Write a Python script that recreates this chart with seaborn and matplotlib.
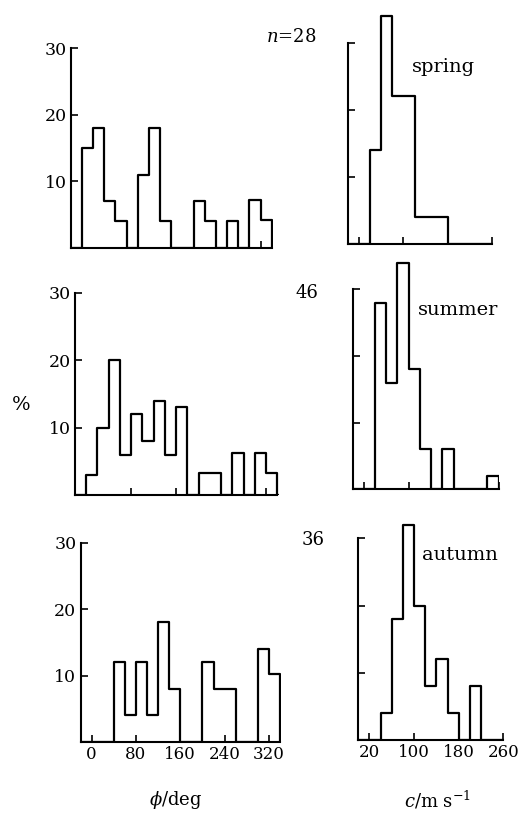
import numpy as np
import pandas as pd
import seaborn as sns
import matplotlib.pyplot as plt

# ---------------- data (percent per 20-unit bin) ----------------
phi_edges = list(range(-20, 341, 20))          # 18 bins, -20 .. 340 deg
c_edges = list(range(0, 261, 20))              # 13 bins, 0 .. 260 m/s

spring_phi = [0, 15, 18, 7, 4, 0, 11, 18, 4, 0, 0, 7, 4, 0, 4, 0, 7.2, 4.2]
summer_phi = [0, 3, 10, 20, 6, 12, 8, 14, 6, 13, 0, 3.2, 3.2, 0, 6.3, 0, 6.3, 3.3]
autumn_phi = [0, 0, 0, 12, 4, 12, 4, 18, 8, 0, 0, 12, 8, 8, 0, 0, 14, 10.3]

spring_c = [0, 0, 14, 34, 22, 22, 4, 4, 4, 0, 0, 0, 0]
summer_c = [0, 0, 28, 16, 34, 18, 6, 0, 6, 0, 0, 0, 2]
autumn_c = [0, 0, 4, 18, 32, 20, 8, 12, 4, 0, 8, 0, 0]

seasons = ["spring", "summer", "autumn"]
n_obs = ["$n$=28", "46", "36"]
y_ticks = [10, 20, 30]
phi_ticks = [0, 80, 160, 240, 320]
c_ticks = [20, 100, 180, 260]

# ---------------- style ----------------
sns.set_theme(style="ticks")
plt.rcParams['font.family'] = ['DejaVu Serif']
plt.rcParams['mathtext.fontset'] = 'dejavuserif'
plt.rcParams['text.color'] = 'black'

W, H = 521, 819
fig = plt.figure(figsize=(W / 100, H / 100), dpi=100)
fig.patch.set_facecolor("white")

EXTRA = 0.006  # fraction of x-range added on the right so the closing edge is not clipped


def add_ax(x_lo_px, x_hi_px, y0_px, y30_px):
    ppu = (y0_px - y30_px) / 30.0
    top = y0_px - 36 * ppu
    width = (x_hi_px - x_lo_px) * (1 + EXTRA)
    return fig.add_axes([x_lo_px / W, 1 - y0_px / H,
                         width / W, (y0_px - top) / H])


# pixel placement of each panel: (x at low lim, x at high lim, y of 0, y of 30)
left_pos = [(70.7, 271.7, 248.0, 48.3),
            (74.8, 277.3, 495.0, 292.7),
            (80.5, 280.0, 742.0, 542.7)]
right_pos = [(348.3, 491.8, 244.3, 42.7),
             (352.5, 498.5, 489.3, 289.3),
             (358.3, 503.3, 740.0, 538.3)]

phi_data = [spring_phi, summer_phi, autumn_phi]
c_data = [spring_c, summer_c, autumn_c]


def draw_hist(ax, edges, vals, xlim, ticks, show_xlabels, show_ylabels):
    w = edges[1] - edges[0]
    centers = [(a + b) / 2 for a, b in zip(edges[:-1], edges[1:])]
    df = pd.DataFrame({"x": centers, "w": [float(v) for v in vals]})
    bins_ext = [edges[0] - w] + list(edges) + [edges[-1] + w]
    sns.histplot(data=df, x="x", weights="w", bins=bins_ext,
                 element="step", fill=False, color="black",
                 linewidth=1.6, ax=ax)
    lo, hi = xlim
    ax.set_xlim(lo, hi + (hi - lo) * EXTRA)
    ax.set_ylim(0, 36)
    ax.set_xlabel("")
    ax.set_ylabel("")
    ax.set_facecolor("none")
    for s in ["top", "right"]:
        ax.spines[s].set_visible(False)
    for s in ["left", "bottom"]:
        ax.spines[s].set_linewidth(1.5)
        ax.spines[s].set_color("black")
    ax.spines["left"].set_bounds(0, 30)
    ax.spines["bottom"].set_bounds(lo, hi)
    ax.set_yticks(y_ticks)
    ax.set_xticks(ticks)
    ax.tick_params(direction="in", length=5, width=1.2, colors="black",
                   labelsize=12, pad=3)
    ax.tick_params(axis="y", labelsize=12.5)
    if not show_ylabels:
        ax.set_yticklabels([])
    if not show_xlabels:
        ax.set_xticklabels([])


for i in range(3):
    axl = add_ax(*left_pos[i])
    draw_hist(axl, phi_edges, phi_data[i], (-20, 340), phi_ticks,
              show_xlabels=(i == 2), show_ylabels=True)
    axr = add_ax(*right_pos[i])
    draw_hist(axr, c_edges, c_data[i], (0, 260), c_ticks,
              show_xlabels=(i == 2), show_ylabels=False)


def ftext(x, y, s, **kw):
    fig.text(x / W, 1 - y / H, s, color="black", **kw)


ftext(316, 37, n_obs[0], ha="right", va="center", fontsize=13)
ftext(318, 293, n_obs[1], ha="right", va="center", fontsize=13)
ftext(325, 540, n_obs[2], ha="right", va="center", fontsize=13)

ftext(443, 67, seasons[0], ha="center", va="center", fontsize=14)
ftext(458, 310, seasons[1], ha="center", va="center", fontsize=14)
ftext(460, 555, seasons[2], ha="center", va="center", fontsize=14)

ftext(21, 405, "%", ha="center", va="center", fontsize=14)
ftext(176, 800, r"$\phi$/deg", ha="center", va="center", fontsize=13)
ftext(438, 800, r"$c$/m s$^{-1}$", ha="center", va="center", fontsize=13)

fig.savefig("out.png", dpi=100, facecolor="white")
